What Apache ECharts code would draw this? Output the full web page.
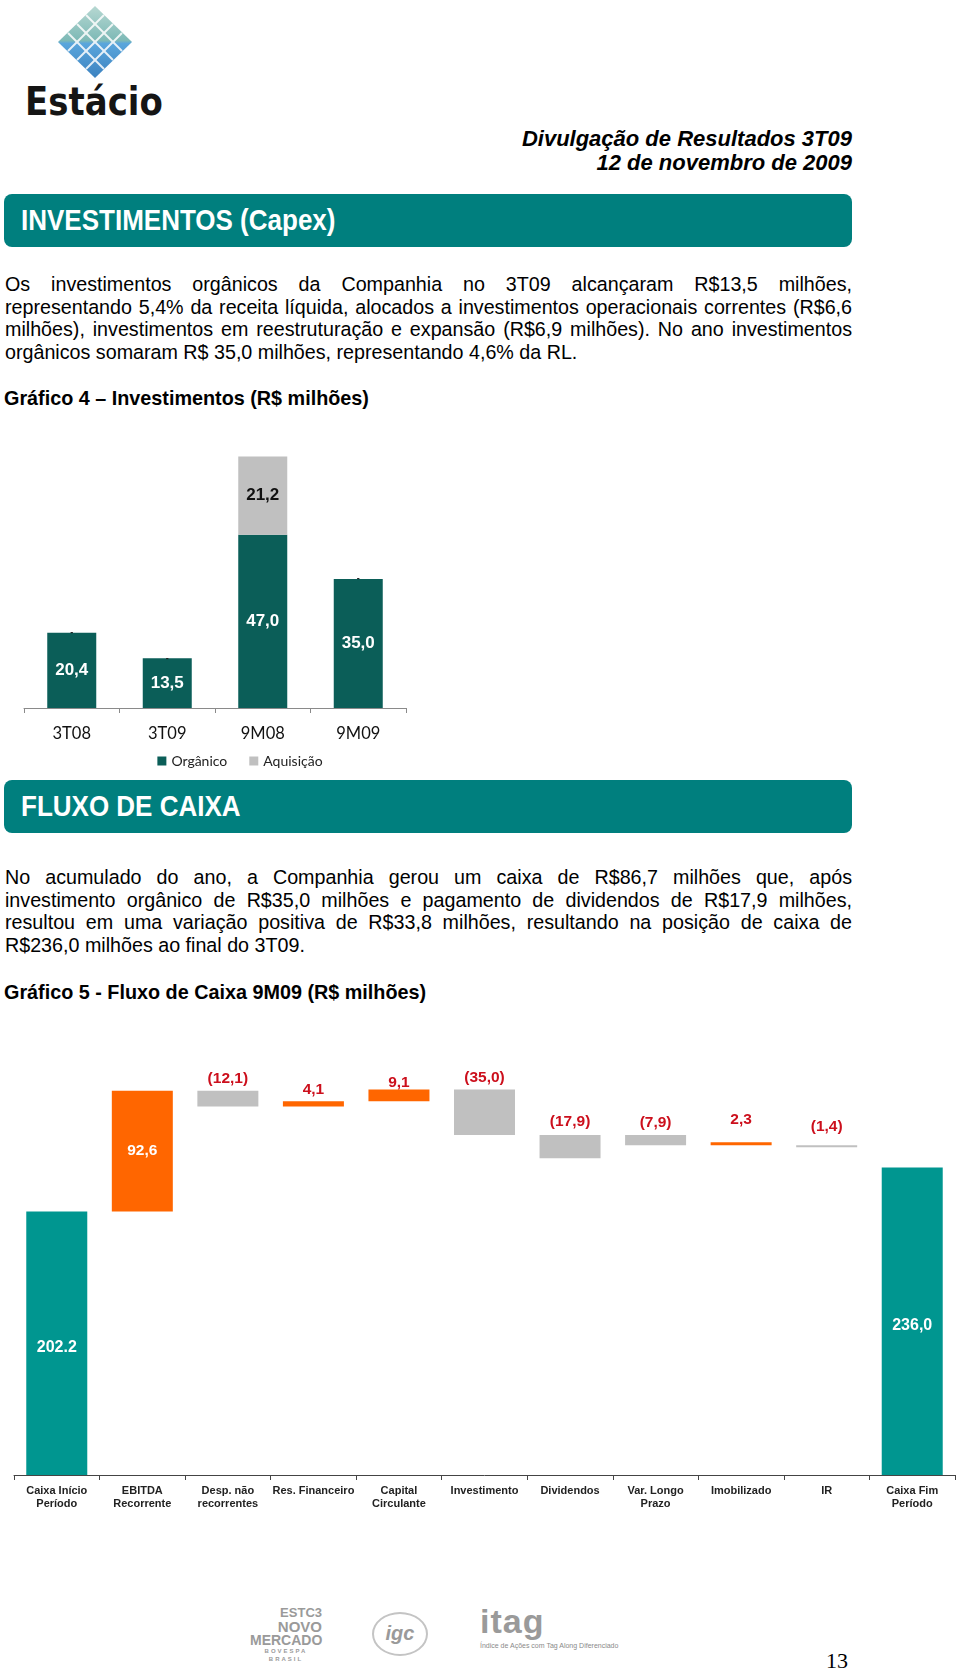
<!DOCTYPE html>
<html>
<head>
<meta charset="utf-8">
<script src="https://cdn.jsdelivr.net/npm/echarts@6/dist/echarts.min.js"></script>
<style>
  html, body { margin:0; padding:0; background:#fff; }
  #page { position:relative; width:960px; height:1671px; overflow:hidden; font-family:'Liberation Sans', Arial, sans-serif; color:#000; }
  .abs { position:absolute; }
  .hdr { right:108px; text-align:right; font-weight:bold; font-style:italic; font-size:22px; line-height:24px; white-space:nowrap; }
  .banner { left:4px; width:848px; height:53px; background:#007f7e; border-radius:8px; }
  .banner span { position:absolute; left:17px; top:50%; transform:translateY(-50%) scaleY(1.1); color:#fff; font-weight:bold; font-size:26px; white-space:nowrap; }
  .para { left:5px; width:847px; font-size:19.7px; line-height:22.7px; }
  .para div { text-align:justify; text-align-last:justify; white-space:nowrap; }
  .para div.last { text-align-last:left; text-align:left; }
  .ttl { left:4px; font-weight:bold; font-size:19.8px; white-space:nowrap; }
  .foot { color:#9a9a9a; font-weight:bold; }
</style>
</head>
<body>
<div id="page">
  <!-- logo -->
  <svg class="abs" style="left:55px;top:4px" width="80" height="78" viewBox="0 0 80 78">
    <defs>
      <linearGradient id="lg" x1="0" y1="0" x2="0" y2="1">
        <stop offset="0" stop-color="#b7d8d2"/>
        <stop offset="0.48" stop-color="#7db9b6"/>
        <stop offset="0.52" stop-color="#5aa6dc"/>
        <stop offset="1" stop-color="#3c82c0"/>
      </linearGradient>
    </defs>
    <polygon points="40,2 77,38 40,74 3,38" fill="url(#lg)"/>
    <g stroke="#ffffff" stroke-width="2" opacity="0.85">
      <line x1="22" y1="20" x2="58" y2="56"/>
      <line x1="31" y1="11" x2="67" y2="47"/>
      <line x1="13" y1="29" x2="49" y2="65"/>
      <line x1="58" y1="20" x2="22" y2="56"/>
      <line x1="49" y1="11" x2="13" y2="47"/>
      <line x1="67" y1="29" x2="31" y2="65"/>
    </g>
  </svg>
  <div class="abs" style="left:25px;top:78px;font-family:'DejaVu Sans',sans-serif;font-weight:bold;font-size:34px;color:#151515;transform:scaleY(1.15);transform-origin:0 0;letter-spacing:0px;">Estácio</div>

  <div class="abs hdr" style="top:127px;">Divulgação de Resultados 3T09</div>
  <div class="abs hdr" style="top:151px;">12 de novembro de 2009</div>

  <div class="abs banner" style="top:194px;"><span>INVESTIMENTOS (Capex)</span></div>

  <div class="abs para" style="top:273px;">
    <div>Os investimentos orgânicos da Companhia no 3T09 alcançaram R$13,5 milhões,</div>
    <div>representando 5,4% da receita líquida, alocados a investimentos operacionais correntes (R$6,6</div>
    <div>milhões), investimentos em reestruturação e expansão (R$6,9 milhões). No ano investimentos</div>
    <div class="last">orgânicos somaram R$ 35,0 milhões, representando 4,6% da RL.</div>
  </div>

  <div class="abs ttl" style="top:387px;">Gráfico 4 – Investimentos (R$ milhões)</div>

  <div id="chart1" class="abs" style="left:0;top:400px;width:480px;height:380px;"></div>

  <div class="abs banner" style="top:780px;"><span>FLUXO DE CAIXA</span></div>

  <div class="abs para" style="top:866px;">
    <div>No acumulado do ano, a Companhia gerou um caixa de R$86,7 milhões que, após</div>
    <div>investimento orgânico de R$35,0 milhões e pagamento de dividendos de R$17,9 milhões,</div>
    <div>resultou em uma variação positiva de R$33,8 milhões, resultando na posição de caixa de</div>
    <div class="last">R$236,0 milhões ao final do 3T09.</div>
  </div>

  <div class="abs ttl" style="top:981px;">Gráfico 5 - Fluxo de Caixa 9M09 (R$ milhões)</div>

  <div id="chart2" class="abs" style="left:0;top:1040px;width:960px;height:500px;"></div>

  <!-- footer logos -->
  <div class="abs foot" style="left:250px;top:1606px;font-size:13px;line-height:13px;text-align:center;width:72px;">
    <div style="text-align:right">ESTC3</div><div style="text-align:right;font-size:15px;line-height:15px">NOVO</div><div style="font-size:14px">MERCADO</div><div style="font-size:6px;line-height:8px;letter-spacing:2px">BOVESPA BRASIL</div>
  </div>
  <div class="abs foot" style="left:372px;top:1612px;width:52px;height:40px;border-radius:50%;border:2px solid #c4c4c4;text-align:center;font-style:italic;font-size:20px;line-height:38px;">igc</div>
  <div class="abs foot" style="left:480px;top:1604px;font-size:34px;letter-spacing:1px;line-height:34px;">itag</div>
  <div class="abs" style="left:480px;top:1642px;font-size:7px;color:#8a8a8a;white-space:nowrap;">Índice de Ações com Tag Along Diferenciado</div>
  <div class="abs" style="left:826px;top:1648px;font-family:'Liberation Serif',serif;font-size:22px;">13</div>
</div>

<script>
// ---------- Gráfico 4 data ----------
const invCategories = ['3T08', '3T09', '9M08', '9M09'];
const invOrganico   = [20.4, 13.5, 47.0, 35.0];
const invAquisicao  = [0, 0, 21.2, 0];

// ---------- Gráfico 5 data ----------
const flowCategories = ['Caixa Início\nPeríodo', 'EBITDA\nRecorrente', 'Desp. não\nrecorrentes', 'Res. Financeiro',
  'Capital\nCirculante', 'Investimento', 'Dividendos', 'Var. Longo\nPrazo', 'Imobilizado', 'IR', 'Caixa Fim\nPeríodo'];
const flowValues = [202.2, 92.6, -12.1, 4.1, 9.1, -35.0, -17.9, -7.9, 2.3, -1.4, 236.0];
const flowBases  = [0, 202.2, 282.7, 282.7, 286.8, 260.9, 243.0, 253.0, 253.0, 251.6, 0];
const flowKinds  = ['total', 'up', 'down', 'up', 'up', 'down', 'down', 'down', 'up', 'down', 'total'];
const flowLabels = ['202.2', '92,6', '(12,1)', '4,1', '9,1', '(35,0)', '(17,9)', '(7,9)', '2,3', '(1,4)', '236,0'];

// ---------- styles ----------
const fmt = v => v.toFixed(1).replace('.', ',');
const KIND_COLORS = { total: '#009690', up: '#ff6600', down: '#c0c0c0' };
const FLOW_LABEL_GAP = [0, 0, 4, 4, -1, 4, 5, 4, 15, 11, 0];

const c1 = echarts.init(document.getElementById('chart1'));
c1.setOption({
  animation: false,
  grid: { left: 24, top: 13, width: 382, height: 295 },
  legend: {
    top: 349, left: 'center', itemWidth: 9, itemHeight: 9, itemGap: 22,
    icon: 'rect',
    textStyle: { fontFamily: 'Lato', fontSize: 14, color: '#222' },
    data: ['Orgânico', 'Aquisição']
  },
  xAxis: {
    type: 'category', data: invCategories,
    axisLine: { lineStyle: { color: '#8a8a8a', width: 1 } },
    axisTick: { show: true, length: 5, lineStyle: { color: '#8a8a8a' } },
    axisLabel: { fontFamily: 'Lato', fontSize: 16.5, color: '#111', margin: 17 }
  },
  yAxis: { type: 'value', min: 0, max: 80, show: false, splitLine: { show: false } },
  series: [
    {
      name: 'Orgânico', type: 'bar', stack: 'inv', barWidth: 49, data: invOrganico,
      itemStyle: { color: '#0b5e58' },
      label: { show: true, position: 'inside', color: '#fff', fontWeight: 'bold',
        fontFamily: 'Liberation Sans Narrow, Liberation Sans', fontSize: 17, formatter: p => fmt(p.value) }
    },
    {
      name: 'Aquisição', type: 'bar', stack: 'inv', barWidth: 49, data: invAquisicao,
      itemStyle: { color: '#c0c0c0' },
      label: { show: true, position: 'inside', color: '#111', fontWeight: 'bold',
        fontFamily: 'Liberation Sans Narrow, Liberation Sans', fontSize: 17,
        formatter: p => p.value === 0 ? '{d|-}' : fmt(p.value),
        rich: { d: { fontSize: 9, fontWeight: 'bold', color: '#222' } } }
    }
  ]
});

const c2 = echarts.init(document.getElementById('chart2'));
c2.setOption({
  animation: false,
  grid: { left: 14, top: 18, width: 941, height: 417 },
  xAxis: {
    type: 'category', data: flowCategories,
    axisLine: { lineStyle: { color: '#444', width: 1 } },
    axisTick: { show: true, length: 5, lineStyle: { color: '#444' } },
    axisLabel: { interval: 0, fontFamily: 'Liberation Sans', fontWeight: 'bold', fontSize: 11,
      lineHeight: 12.5, color: '#222', margin: 10 }
  },
  yAxis: { type: 'value', min: 0, max: 320, show: false, splitLine: { show: false } },
  series: [
    {
      type: 'bar', stack: 'w', barWidth: 61, silent: true,
      itemStyle: { color: 'rgba(0,0,0,0)' },
      data: flowBases
    },
    {
      type: 'bar', stack: 'w', barWidth: 61,
      data: flowValues.map((v, i) => {
        const k = flowKinds[i];
        const total = k === 'total';
        return {
          value: Math.abs(v),
          itemStyle: { color: KIND_COLORS[k] },
          label: total
            ? { show: true, position: 'inside', offset: [0, 4], color: '#fff', formatter: flowLabels[i],
                fontFamily: 'Liberation Sans', fontWeight: 'bold', fontSize: 16 }
            : { show: true, position: i === 1 ? 'inside' : 'top',
                distance: FLOW_LABEL_GAP[i],
                color: i === 1 ? '#fff' : '#cc0f1c', formatter: flowLabels[i],
                fontFamily: 'Liberation Sans', fontWeight: 'bold', fontSize: i === 1 ? 15.5 : 15.5 }
        };
      })
    }
  ]
});
</script>
</body>
</html>
